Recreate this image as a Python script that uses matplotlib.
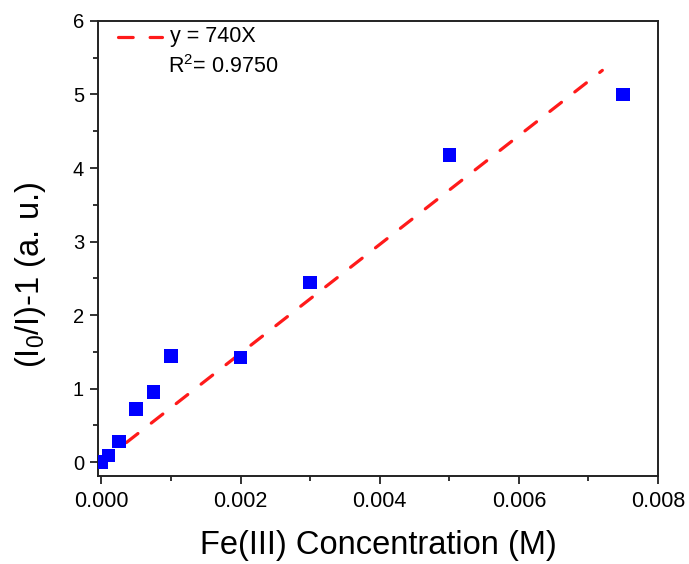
import matplotlib
matplotlib.use("Agg")
import matplotlib.pyplot as plt
import numpy as np
from matplotlib.ticker import MultipleLocator, FormatStrFormatter
from matplotlib.lines import Line2D

plt.rcParams['font.family'] = ['Liberation Sans', 'DejaVu Sans']
plt.rcParams['mathtext.fontset'] = 'custom'
plt.rcParams['mathtext.rm'] = 'Liberation Sans'
plt.rcParams['mathtext.it'] = 'Liberation Sans'
plt.rcParams['mathtext.default'] = 'regular'

# Fe(III) concentration (M) and quenching response (I0/I)-1
conc = [0.0, 0.0001, 0.00025, 0.0005, 0.00075, 0.001, 0.002, 0.003, 0.005, 0.0075]
response = [0.0, 0.09, 0.28, 0.72, 0.95, 1.44, 1.42, 2.44, 4.18, 5.0]

# Linear fit through origin
slope = 740
fit_x = [0.0, 0.0072]
r_squared = 0.9750

RED = '#ff1a1a'
DASH = (4.6, 5.3)

fig = plt.figure(figsize=(6.89, 5.64), dpi=100)
ax = fig.add_axes([0.1422, 0.156, 0.955 - 0.1422, 0.9628 - 0.156])

fx = np.array(fit_x)
ax.plot(fx, slope * fx, color=RED, lw=2.3, dashes=DASH,
        dash_capstyle='round', zorder=2)
ax.scatter(conc, response, marker='s', s=95, color='#0000ff', edgecolors='none', zorder=3)

ax.set_xlim(-0.00005, 0.008)
ax.set_ylim(-0.19, 6)
ax.xaxis.set_major_locator(MultipleLocator(0.002))
ax.xaxis.set_minor_locator(MultipleLocator(0.001))
ax.yaxis.set_major_locator(MultipleLocator(1))
ax.yaxis.set_minor_locator(MultipleLocator(0.5))
ax.xaxis.set_major_formatter(FormatStrFormatter('%.3f'))

ax.tick_params(which='major', direction='out', length=6, width=1.3, color='#222222')
ax.tick_params(which='minor', direction='out', length=3.5, width=1.3, color='#222222')
ax.tick_params(axis='x', which='major', labelsize=15.5, pad=5)
ax.tick_params(axis='y', which='major', labelsize=14.5, pad=4)
ax.tick_params(top=False, right=False, which='both')
for s in ax.spines.values():
    s.set_linewidth(1.4)
    s.set_color('#222222')

ax.set_xlabel('Fe(III) Concentration (M)', fontsize=23.5, labelpad=13)
ax.set_ylabel('(I$_0$/I)-1 (a. u.)', fontsize=23.5, va='center')
ax.yaxis.set_label_coords(-0.12, 0.442)

# Fit annotation: dashed key, equation and R^2
key = Line2D([0.036, 0.114], [0.965, 0.965], transform=ax.transAxes, color=RED,
             lw=2.3, dashes=DASH, dash_capstyle='round', clip_on=False)
ax.add_line(key)
ax.text(0.128, 0.965, 'y = 740X', transform=ax.transAxes,
        fontsize=15.5, ha='left', va='center')
ax.text(0.125, 0.899, 'R$^2$= %.4f' % r_squared, transform=ax.transAxes,
        fontsize=15.5, ha='left', va='center')

fig.savefig('out.png', dpi=100)
